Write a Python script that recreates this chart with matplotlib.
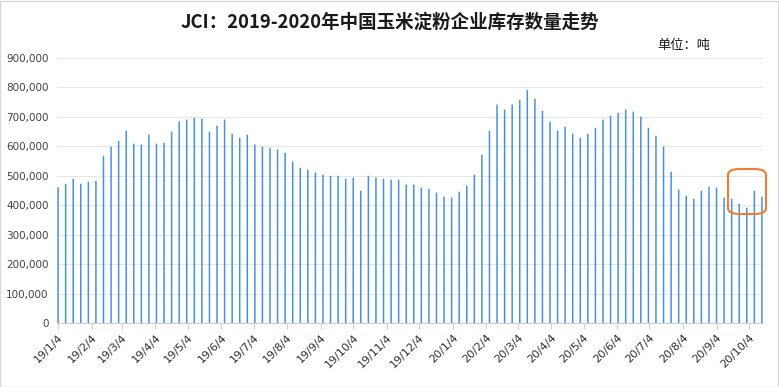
"""
JCI corn starch inventory chart, 2019-2020 weekly
"""
import matplotlib
matplotlib.use('Agg')
import matplotlib.pyplot as plt
from matplotlib.patches import FancyBboxPatch, Rectangle
import pandas as pd

plt.rcParams['font.family'] = ['Noto Sans CJK SC', 'DejaVu Sans']

# weekly inventory (tonnes), first week 2019-01-04
start_date = '2019-01-04'
inventory = [
    461000, 473000, 490000, 473000, 480000, 483000, 568000, 599000, 619000, 653000,
    609000, 606000, 640000, 609000, 612000, 650000, 684000, 691000, 697000, 694000,
    650000, 670000, 691000, 643000, 629000, 640000, 606000, 599000, 595000, 589000,
    578000, 548000, 527000, 521000, 511000, 504000, 500000, 500000, 490000, 494000,
    449000, 500000, 494000, 490000, 487000, 487000, 470000, 470000, 460000, 456000,
    443000, 429000, 426000, 446000, 466000, 504000, 572000, 653000, 742000, 725000,
    742000, 758000, 792000, 762000, 721000, 684000, 653000, 667000, 643000, 629000,
    643000, 663000, 691000, 704000, 714000, 725000, 718000, 701000, 663000, 636000,
    599000, 514000, 453000, 432000, 422000, 449000, 463000, 460000, 426000, 422000,
    405000, 392000, 449000, 429000,
]
dates = pd.date_range(start_date, periods=len(inventory), freq='7D')

# month ticks on the 4th, 19/1/4 .. 20/10/4
tick_dates = pd.date_range('2019-01-01', '2020-10-01', freq='MS') + pd.Timedelta(days=3)
tick_labels = [f"{d.year % 100}/{d.month}/{d.day}" for d in tick_dates]
y_ticks = list(range(0, 900001, 100000))

title = 'JCI：2019-2020年中国玉米淀粉企业库存数量走势'
unit = '单位：吨'

fig = plt.figure(figsize=(7.79, 3.87), dpi=100)
ax = fig.add_axes([57 / 779, 1 - 323 / 387, 706 / 779, 265 / 387])

bars = ax.bar(dates, inventory, width=1.4, color='#4A90D9', linewidth=0, zorder=3)
for b in bars:
    b.set_snap(False)

ax.set_ylim(0, 900000)
ax.set_yticks(y_ticks)
ax.set_yticklabels([f"{v:,}" for v in y_ticks], fontsize=7.5, color='#404040',
                   family=['DejaVu Sans'])
ax.set_xlim(dates[0] - pd.Timedelta(days=1), dates[-1] + pd.Timedelta(days=1))
ax.set_xticks(tick_dates)
ax.set_xticklabels(tick_labels, rotation=45, ha='right', va='top',
                   rotation_mode='anchor', fontsize=8, color='#303030',
                   family=['DejaVu Sans'])

ax.grid(axis='y', color='#E6E6E6', linewidth=0.8, zorder=0)
for side in ['left', 'right', 'top']:
    ax.spines[side].set_visible(False)
ax.spines['bottom'].set_color('#D0D0D0')
ax.tick_params(axis='y', length=0, pad=6)
ax.tick_params(axis='x', length=4, color='#D0D0D0', pad=3)

fig.text(0.5, 1 - 22 / 387, title, ha='center', va='center',
         fontsize=13.3, fontweight='bold', color='#1a1a1a')
fig.text(684 / 779, 1 - 45 / 387, unit, ha='center', va='center',
         fontsize=9.5, color='#1a1a1a')

# highlight box on the latest weeks
box = FancyBboxPatch((728 / 779, 1 - 214 / 387), 38 / 779, 45 / 387,
                     boxstyle='round,pad=0,rounding_size=0.015',
                     transform=fig.transFigure, fill=False,
                     edgecolor='#ED7D31', linewidth=1.5, zorder=5)
fig.patches.append(box)

fig.patches.append(Rectangle((0.0005, 0.001), 0.998, 0.997, transform=fig.transFigure,
                             fill=False, edgecolor='#D9D9D9', linewidth=1))

plt.savefig('out.png', dpi=100)
plt.close()
